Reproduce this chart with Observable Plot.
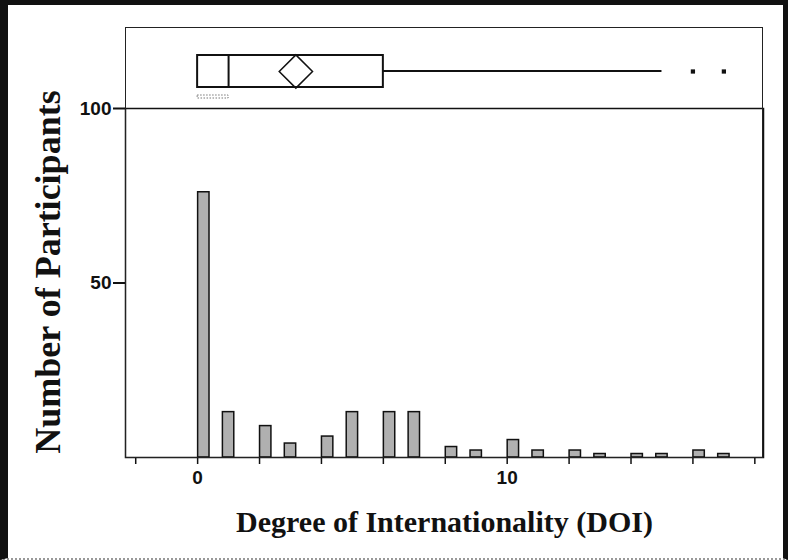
<!DOCTYPE html>
<html><head><meta charset="utf-8">
<script src="https://cdn.jsdelivr.net/npm/d3@7"></script>
<script src="https://cdn.jsdelivr.net/npm/@observablehq/plot@0.6"></script>
<style>
body{margin:0;background:#fff;}
#wrap{position:relative;width:788px;height:560px;overflow:hidden;background:#fff;}
#wrap svg{position:absolute;left:0;overflow:visible;}
#border{position:absolute;left:0;top:0;width:788px;height:560px;box-sizing:border-box;border-left:8px solid #111;border-top:5px solid #111;border-right:5px solid #111;border-bottom:2px dotted #999;pointer-events:none;z-index:5;}
#frame{position:absolute;left:125px;top:27px;width:638px;height:431px;box-sizing:border-box;border:1.5px solid #222;pointer-events:none;z-index:4;}
#main g[aria-label^="y-axis"] path, #main g[aria-label^="y-axis"] line{stroke-width:2;}
#main g[aria-label^="x-axis"] path, #main g[aria-label^="x-axis"] line{stroke-width:1.5;}
</style></head><body><div id="wrap"><div id="frame"></div><div id="border"></div></div>
<script>
// ---- data ----
const doiValues = [0, 1, 2, 3, 4, 5, 6, 7, 8, 9, 10, 11, 12, 13, 14, 15, 16, 17];
const participantCounts = [76, 13, 9, 4, 6, 13, 13, 13, 3, 2, 5, 2, 2, 1, 1, 1, 2, 1];
const xTickValues = [-2, 0, 2, 4, 6, 8, 10, 12, 14, 16, 18];
const xTickLabels = [0, 10];
const yTickValues = [50, 100];
const xDomain = [-2.33, 18.28];
const yDomain = [0, 100];
const binWidth = 0.4;
const xTitle = "Degree of Internationality (DOI)";
const yTitle = "Number of Participants";

// ---- statistics from the same data ----
const obs = doiValues.flatMap((v, i) => Array(participantCounts[i]).fill(v));
const sorted = obs.slice().sort(d3.ascending);
const q1 = d3.quantileSorted(sorted, 0.25);
const median = d3.quantileSorted(sorted, 0.5);
const q3 = d3.quantileSorted(sorted, 0.75);
const iqr = q3 - q1;
const inside = sorted.filter(v => v >= q1 - 1.5 * iqr && v <= q3 + 1.5 * iqr);
const stats = {q1, median, q3, lo: d3.min(inside), hi: d3.max(inside), mean: d3.mean(sorted)};
const outliers = Array.from(new Set(sorted.filter(v => v > q3 + 1.5 * iqr || v < q1 - 1.5 * iqr)));
const half = Math.ceil(sorted.length / 2);
let shortest = {x1: sorted[0], x2: sorted[half - 1]};
for (let i = 0; i + half - 1 < sorted.length; i++) {
  if (sorted[i + half - 1] - sorted[i] < shortest.x2 - shortest.x1) shortest = {x1: sorted[i], x2: sorted[i + half - 1]};
}
const binStart = v => Math.floor(v * 5 / 2) * 2 / 5;

const sansFont = "'Liberation Sans', Arial, sans-serif";
const serifFont = "'Liberation Serif', 'Times New Roman', serif";

const main = Plot.plot({
  width: 788, height: 560,
  marginLeft: 125, marginRight: 25, marginTop: 108, marginBottom: 103,
  style: {background: "transparent", fontFamily: sansFont, fontSize: "19px", fontWeight: "bold", color: "#111"},
  x: {domain: xDomain, ticks: xTickValues, tickFormat: d => xTickLabels.includes(d) ? String(d) : "", tickSize: 7, tickPadding: 6, label: null},
  y: {domain: yDomain, ticks: yTickValues, tickSize: 12, tickPadding: 2, label: null},
  marks: [
    Plot.rectY(doiValues, {
      x1: d => binStart(d), x2: d => binStart(d) + binWidth,
      y: (d, i) => participantCounts[i],
      fill: "#b0b0b0", stroke: "#111", strokeWidth: 1.5, insetLeft: 0.5, insetRight: 0.5
    }),
    Plot.frame({stroke: "#111", strokeWidth: 1.5}),
    Plot.text([xTitle], {frameAnchor: "bottom", dy: 74, fontFamily: serifFont, fontSize: 30, fontWeight: "bold", fill: "#111"}),
    Plot.text([yTitle], {frameAnchor: "left", textAnchor: "middle", dx: -77, dy: -11, rotate: -90, fontFamily: serifFont, fontSize: 36, fontWeight: "bold", fill: "#111"})
  ]
});
main.id = "main";
main.style.top = "0px";

const box = Plot.plot({
  width: 788, height: 83,
  marginLeft: 125, marginRight: 25, marginTop: 27, marginBottom: 24,
  style: {background: "transparent"},
  x: {domain: xDomain, axis: null},
  marks: [
    // whisker (thin bar centred in the box band)
    Plot.barX([stats], {x1: d => d.q3, x2: d => d.hi, fill: "#111", insetTop: 15, insetBottom: 15}),
    Plot.barX([stats], {x1: d => d.q1, x2: d => d.q3, fill: "white", stroke: "#111", strokeWidth: 2}),
    Plot.tickX([stats], {x: d => d.median, stroke: "#111", strokeWidth: 2}),
    Plot.dot([stats], {x: d => d.mean, symbol: "diamond2", r: 15, stroke: "#111", fill: "none", strokeWidth: 1.5}),
    Plot.dot(outliers, {x: d => d, symbol: "square", r: 2.4, fill: "#111", stroke: "none"}),
    // shortest-half bracket below the box
    Plot.barX([shortest], {x1: d => d.x1, x2: d => d.x2, fill: "none", stroke: "#777", strokeWidth: 1, strokeDasharray: "1.5,1.5", insetTop: 40, insetBottom: -11})
  ]
});
box.style.top = "28px";

const wrap = document.getElementById("wrap");
wrap.insertBefore(box, wrap.firstChild);
wrap.insertBefore(main, wrap.firstChild);
</script>
</body></html>
